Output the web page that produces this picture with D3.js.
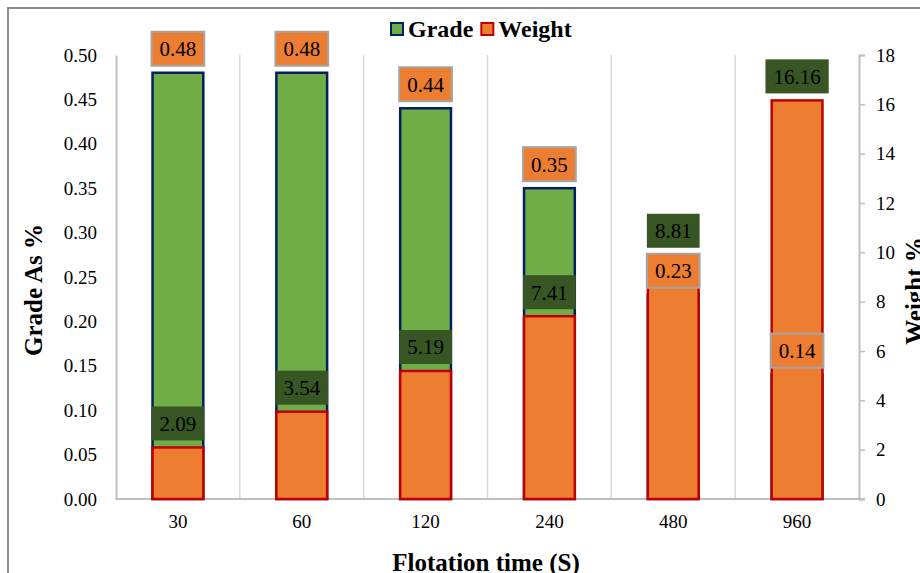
<!DOCTYPE html>
<html>
<head>
<meta charset="utf-8">
<script src="https://cdn.jsdelivr.net/npm/d3@7"></script>
<style>
  body { margin: 0; background: #fff; }
  svg, svg text { font-family: "Liberation Serif", Tinos, "Times New Roman", "DejaVu Serif", serif; }
</style>
</head>
<body>
<svg></svg>
<script>
var width = 920,
    height = 573;

// data
var categories = ["30", "60", "120", "240", "480", "960"];
var grade = [0.48, 0.48, 0.44, 0.35, 0.23, 0.14];
var weight = [2.09, 3.54, 5.19, 7.41, 8.81, 16.16];
var gradeTicks = [0, 0.05, 0.1, 0.15, 0.2, 0.25, 0.3, 0.35, 0.4, 0.45, 0.5];
var weightTicks = [0, 2, 4, 6, 8, 10, 12, 14, 16, 18];

var margin = {top: 55, right: 61, bottom: 74, left: 116};
var plotW = width - margin.left - margin.right,
    plotH = height - margin.top - margin.bottom;

var svg = d3.select("svg")
    .attr("width", width)
    .attr("height", height);

// outer chart frame (runs off the right and bottom edges)
svg.append("rect")
    .attr("x", 8).attr("y", 8)
    .attr("width", 1000).attr("height", 1000)
    .attr("fill", "none")
    .attr("stroke", "#8c8c8c")
    .attr("stroke-width", 2);

var g = svg.append("g")
    .attr("transform", "translate(" + [margin.left, margin.top] + ")");

var x = d3.scaleBand()
    .domain(categories)
    .range([0, plotW]);

var yG = d3.scaleLinear().domain([0, 0.5]).range([plotH, 0]);
var yW = d3.scaleLinear().domain([0, 18]).range([plotH, 0]);

var barW = x.bandwidth() * 0.41;

// vertical gridlines between categories
g.selectAll("line.grid")
    .data(categories.slice(1))
    .enter().append("line")
    .attr("class", "grid")
    .attr("x1", d => x(d)).attr("x2", d => x(d))
    .attr("y1", 0).attr("y2", plotH)
    .attr("stroke", "#d9d9d9")
    .attr("stroke-width", 1.5);

// left axis
var axL = g.append("g")
    .call(d3.axisLeft(yG).tickValues(gradeTicks).tickFormat(d3.format(".2f")).tickSize(0).tickPadding(19));
axL.attr("font-family", null);
axL.select(".domain").attr("stroke", "#bfbfbf").attr("stroke-width", 2);
axL.selectAll("text").attr("font-size", 19).attr("fill", "#000");

// right axis
var axR = g.append("g")
    .attr("transform", "translate(" + plotW + ",0)")
    .call(d3.axisRight(yW).tickValues(weightTicks).tickSize(6).tickSizeOuter(6).tickPadding(11));
axR.attr("font-family", null);
axR.select(".domain").attr("stroke", "#bfbfbf").attr("stroke-width", 2);
axR.selectAll(".tick line").attr("stroke", "#bfbfbf").attr("stroke-width", 1.5);
axR.selectAll("text").attr("font-size", 19).attr("fill", "#000");

// bottom axis
var axB = g.append("g")
    .attr("transform", "translate(0," + plotH + ")")
    .call(d3.axisBottom(x).tickSize(0).tickPadding(16));
axB.attr("font-family", null);
axB.select(".domain").attr("stroke", "#bfbfbf").attr("stroke-width", 2)
    .attr("d", "M0,0H" + (plotW + 6));
axB.selectAll("text").attr("font-size", 19).attr("fill", "#000");

// grade bars (behind)
g.selectAll("rect.grade")
    .data(grade)
    .enter().append("rect")
    .attr("class", "grade")
    .attr("x", (d, i) => x(categories[i]) + (x.bandwidth() - barW) / 2)
    .attr("y", d => yG(d))
    .attr("width", barW)
    .attr("height", d => plotH - yG(d))
    .attr("fill", "#70ad47")
    .attr("stroke", "#002060")
    .attr("stroke-width", 2.5);

// weight bars (front)
g.selectAll("rect.weight")
    .data(weight)
    .enter().append("rect")
    .attr("class", "weight")
    .attr("x", (d, i) => x(categories[i]) + (x.bandwidth() - barW) / 2)
    .attr("y", d => yW(d))
    .attr("width", barW)
    .attr("height", d => plotH - yW(d))
    .attr("fill", "#ed7d31")
    .attr("stroke", "#c00000")
    .attr("stroke-width", 2.5);

// data labels
var boxH = 34, gap = 24;
var gradeCy = grade.map(d => yG(d) - gap);
var weightCy = weight.map((d, i) => {
    var cy = yW(d) - gap;
    // nudge up when it would collide with the grade label
    if (Math.abs(cy - gradeCy[i]) < boxH + 4) cy = gradeCy[i] - (boxH + 6);
    return cy;
});

function addLabel(cx, cy, txt, fill, stroke) {
    var lg = g.append("g").attr("transform", "translate(" + [cx, cy] + ")");
    var r = lg.append("rect");
    var t = lg.append("text")
        .attr("text-anchor", "middle")
        .attr("dy", "0.35em")
        .attr("font-size", 21)
        .attr("fill", "#000")
        .text(txt);
    var w = t.node().getComputedTextLength() + 16;
    r.attr("x", -w / 2).attr("y", -boxH / 2)
        .attr("width", w).attr("height", boxH)
        .attr("fill", fill)
        .attr("stroke", stroke || "none")
        .attr("stroke-width", 2);
}

grade.forEach((d, i) => {
    addLabel(x(categories[i]) + x.bandwidth() / 2, gradeCy[i], d3.format(".2f")(d), "#ed7d31", "#a5a5a5");
});
weight.forEach((d, i) => {
    addLabel(x(categories[i]) + x.bandwidth() / 2, weightCy[i], d3.format(".2f")(d), "#375623", null);
});

// axis titles
svg.append("text")
    .attr("transform", "translate(42,290) rotate(-90)")
    .attr("text-anchor", "middle")
    .attr("font-size", 25).attr("font-weight", "bold")
    .text("Grade As %");

svg.append("text")
    .attr("transform", "translate(923,291) rotate(-90)")
    .attr("text-anchor", "middle")
    .attr("font-size", 25).attr("font-weight", "bold")
    .text("Weight %");

svg.append("text")
    .attr("x", 486).attr("y", 571)
    .attr("text-anchor", "middle")
    .attr("font-size", 25).attr("font-weight", "bold")
    .text("Flotation time (S)");

// legend
var legend = [
    {name: "Grade", fill: "#70ad47", stroke: "#002060"},
    {name: "Weight", fill: "#ed7d31", stroke: "#c00000"}
];
var lx = 391;
legend.forEach(function (l) {
    svg.append("rect")
        .attr("x", lx).attr("y", 23)
        .attr("width", 12).attr("height", 12)
        .attr("fill", l.fill)
        .attr("stroke", l.stroke)
        .attr("stroke-width", 2);
    var t = svg.append("text")
        .attr("x", lx + 17).attr("y", 37)
        .attr("font-size", 24).attr("font-weight", "bold")
        .text(l.name);
    lx += 17 + t.node().getComputedTextLength() + 8;
});
</script>
</body>
</html>
